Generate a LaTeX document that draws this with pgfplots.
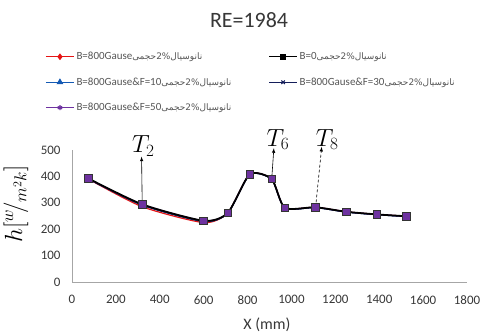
\documentclass[border=0pt]{standalone}
\usepackage{fontspec}
\setmainfont{Carlito}
\newfontfamily\arabicfont[Script=Arabic]{DejaVu Sans}
\TeXXeTstate=1
\usepackage{pgfplots}
\pgfplotsset{compat=1.18}
\definecolor{serred}{RGB}{230,20,20}
\definecolor{serblue}{RGB}{20,90,180}
\definecolor{sernavy}{RGB}{20,30,90}
\definecolor{serpurple}{RGB}{110,50,160}
\definecolor{txtgray}{RGB}{55,55,55}
\definecolor{leggray}{RGB}{85,85,85}
\newcommand{\fa}{{\arabicfont\fontsize{9}{9}\selectfont\beginR نانوسیال\beginL2\%\endL حجمی\endR}}
\newcommand{\lgbox}[1]{\makebox[190bp][l]{#1}}
\pgfplotstableread{
x y
75 390
320 285
600 225
710 262
810 408
910 390
970 281
1110 283
1250 266
1390 256
1525 249
}\serA
\pgfplotstableread{
x y
75 392
320 294
600 232
710 262
810 408
910 390
970 281
1110 283
1250 266
1390 256
1525 249
}\serB
\pgfplotstableread{
x y
75 391
320 292
600 230
710 261
810 407
910 389
970 280
1110 282
1250 265
1390 255
1525 248
}\serC
\pgfplotstableread{
x y
75 390
320 291
600 229
710 261
810 407
910 389
970 280
1110 282
1250 265
1390 255
1525 248
}\serD
\pgfplotstableread{
x y
75 390
320 294
600 232
710 262
810 408
910 390
970 281
1110 283
1250 266
1390 256
1525 249
}\serE
\begin{document}
\begin{tikzpicture}
\useasboundingbox (-72bp,-53bp) rectangle (410bp,282bp);
\begin{axis}[
  scale only axis, width=395bp, height=132bp,
  xmin=0, xmax=1800, ymin=0, ymax=500,
  xtick={0,200,...,1800}, ytick={0,100,...,500},
  axis lines=left, axis line style={gray!70, -, line width=0.8pt},
  major tick length=0pt,
  tick label style={font=\fontsize{13}{13}\selectfont, text=txtgray},
  /pgf/number format/assume math mode=true,
  /pgf/number format/1000 sep={},
  x tick label style={yshift=-10bp},
  y tick label style={xshift=-8bp},
  clip=false,
  legend style={at={(axis description cs:-0.068,1.757)}, anchor=north west,
    draw=none, fill=none, font=\fontsize{11}{11}\selectfont, text=leggray,
    row sep=12.5bp, column sep=0bp, inner sep=0pt},
  legend columns=2, legend cell align=left,
  legend image code/.code={\draw[mark repeat=2,mark phase=2] plot coordinates {(0bp,0bp)(14bp,0bp)(28bp,0bp)};},
]
\addplot[serred, line width=1.2pt, smooth, tension=0.4, forget plot] table[x=x,y=y]{\serA};
\addplot[serblue, line width=1.2pt, smooth, tension=0.4, forget plot] table[x=x,y=y]{\serC};
\addplot[sernavy, line width=1.2pt, smooth, tension=0.4, forget plot] table[x=x,y=y]{\serD};
\addplot[serpurple, line width=1.2pt, smooth, tension=0.4, forget plot] table[x=x,y=y]{\serE};
\addplot[black, line width=1.8pt, smooth, tension=0.4, mark=square*, mark size=3.8pt, mark options={fill=serpurple, draw=black!80, line width=0.8pt}, forget plot] table[x=x,y=y]{\serB};
\addlegendimage{serred, line width=1.2pt, mark=diamond*, mark size=2.5pt}
\addlegendentry{\lgbox{B=800Gause\fa}}
\addlegendimage{black, line width=1.2pt, mark=square*, mark size=2.5pt}
\addlegendentry{B=0\fa}
\addlegendimage{serblue, line width=1.2pt, mark=triangle*, mark size=2.8pt}
\addlegendentry{\lgbox{B=800Gause\&F=10\fa}}
\addlegendimage{sernavy, line width=1.2pt, mark=x, mark size=2.5pt, mark options={line width=1pt}}
\addlegendentry{B=800Gause\&F=30\fa}
\addlegendimage{serpurple, line width=1.2pt, mark=asterisk, mark size=2.5pt}
\addlegendentry{\lgbox{B=800Gause\&F=50\fa}}
\draw[-latex, line width=0.6pt] (axis cs:320,294) -- (axis cs:317,475);
\draw[-latex, line width=0.6pt] (axis cs:910,390) -- (axis cs:920,507);
\draw[-latex, line width=0.6pt, densely dashed] (axis cs:1110,283) -- (axis cs:1138,512);
\node[font=\fontsize{24}{24}\selectfont] at (axis cs:325,515) {$T_2$};
\node[font=\fontsize{24}{24}\selectfont] at (axis cs:938,540) {$T_6$};
\node[font=\fontsize{24}{24}\selectfont] at (axis cs:1163,540) {$T_8$};
\end{axis}
\node[font=\fontsize{22}{22}\selectfont, text=txtgray] at (177bp,262bp) {RE=1984};
\node[font=\fontsize{16}{16}\selectfont, text=txtgray] at (195bp,-43bp) {X (mm)};
\node[rotate=90, anchor=west, inner sep=0pt, font=\fontsize{25}{25}\selectfont] at (-56bp,39bp) {$h[{}^{w}\!/_{m^{2}k}]$};
\end{tikzpicture}
\end{document}
